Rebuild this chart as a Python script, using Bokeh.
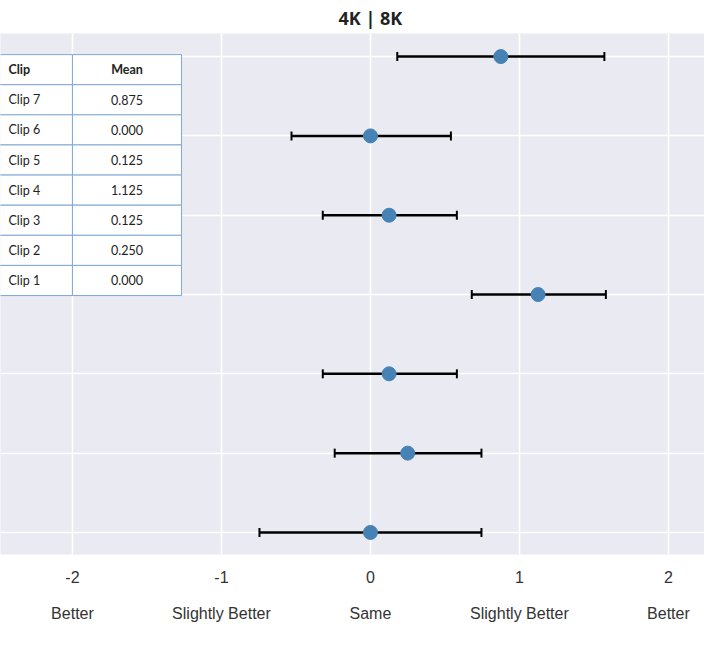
from bokeh.plotting import figure
from bokeh.models import (ColumnDataSource, Range1d, LinearAxis, FixedTicker, Grid,
                          Whisker, TeeHead)
from bokeh.core.properties import value
from bokeh.embed import file_html
from bokeh.resources import INLINE

# ---- data ----
clips = ["Clip 1", "Clip 2", "Clip 3", "Clip 4", "Clip 5", "Clip 6", "Clip 7"]
clip_pos = [1, 2, 3, 4, 5, 6, 7]
means = [0.000, 0.250, 0.125, 1.125, 0.125, 0.000, 0.875]
ci_low = [-0.745, -0.24, -0.32, 0.68, -0.32, -0.53, 0.18]
ci_high = [0.745, 0.745, 0.58, 1.58, 0.58, 0.54, 1.57]
x_ticks = [-2, -1, 0, 1, 2]
x_tick_numbers = ["-2", "-1", "0", "1", "2"]
x_tick_words = ["Better", "Slightly Better", "Same", "Slightly Better", "Better"]
title_text = "4K | 8K"
table_header = ["Clip", "Mean"]

BG = "#EAEAF2"

p = figure(width=704, height=637, output_backend="svg", toolbar_location=None,
           x_range=Range1d(-2.483, 2.242), y_range=Range1d(0.722, 7.291),
           x_axis_location=None, y_axis_location=None,
           min_border_left=0, min_border_right=0, min_border_top=0, min_border_bottom=83,
           background_fill_color=BG, border_fill_color="white", outline_line_color=None)
p.grid.visible = False

p.title.text = title_text
p.title.align = "left"
p.title.offset = 338
p.title.text_font = "Open Sans"
p.title.text_font_size = "18px"
p.title.text_font_style = "bold"
p.title.text_color = "#222222"
p.title.standoff = 7

# grids
p.add_layout(Grid(dimension=0, ticker=FixedTicker(ticks=x_ticks), grid_line_color="white",
                  grid_line_width=1.6))
p.add_layout(Grid(dimension=1, ticker=FixedTicker(ticks=clip_pos), grid_line_color="white",
                  grid_line_width=1.6))

# axes
def make_axis(labels, standoff):
    ax = LinearAxis(ticker=FixedTicker(ticks=x_ticks))
    ax.axis_line_color = None
    ax.major_tick_line_color = None
    ax.minor_tick_line_color = None
    ax.major_label_text_font = "Liberation Sans"
    ax.major_label_text_font_size = "16px"
    ax.major_label_text_color = "#333333"
    ax.major_label_standoff = standoff
    ax.major_label_overrides = {t: s for t, s in zip(x_ticks, labels)}
    return ax

p.add_layout(make_axis(x_tick_numbers, 10), "below")
p.add_layout(make_axis(x_tick_words, 13), "below")

src = ColumnDataSource(dict(y=clip_pos, m=means, lo=ci_low, hi=ci_high))
w = Whisker(base="y", lower="lo", upper="hi", dimension="width", source=src,
            line_color="black", line_width=2.5,
            lower_head=TeeHead(size=9, line_width=2, line_color="black"),
            upper_head=TeeHead(size=9, line_width=2, line_color="black"))
p.add_layout(w)
p.scatter("m", "y", source=src, size=14, fill_color="#4682B4", line_color="#4682B4")

# ---- table (upper-left inset) ----
px_per_y = 79.0
row_h = 30.0 / px_per_y
tbl_top = 7.025
tbl_left = -2.7
tbl_mid = -2.0
tbl_right = -1.268
rows = [table_header] + [[c, "%.3f" % m] for c, m in zip(clips[::-1], means[::-1])]
nrows = len(rows)
tops = [tbl_top - i * row_h for i in range(nrows)]
bots = [t - row_h for t in tops]
border = "#7FA9D6"
p.quad(left=[tbl_left] * nrows, right=[tbl_mid] * nrows, top=tops, bottom=bots,
       fill_color="white", line_color=border, line_width=1)
p.quad(left=[tbl_mid] * nrows, right=[tbl_right] * nrows, top=tops, bottom=bots,
       fill_color="white", line_color=border, line_width=1)
cy = [(t + b) / 2 for t, b in zip(tops, bots)]
x_clip_text = -2.483 + 8 / 149.0
x_mean_text = (tbl_mid + tbl_right) / 2
styles = ["bold"] + ["normal"] * (nrows - 1)
tsrc = ColumnDataSource(dict(c=[r[0] for r in rows], m=[r[1] for r in rows], y=cy,
                             xc=[x_clip_text] * nrows, xm=[x_mean_text] * nrows, st=styles))
p.text("xc", "y", text="c", source=tsrc, text_font=value("Lato"), text_font_size="12.5px",
       text_font_style="st", text_baseline="middle", text_align="left", text_color="#222222")
p.text("xm", "y", text="m", source=tsrc, text_font=value("Lato"), text_font_size="12.5px",
       text_font_style="st", text_baseline="middle", text_align="center", text_color="#222222")

open("out.html", "w").write(file_html(p, INLINE))
